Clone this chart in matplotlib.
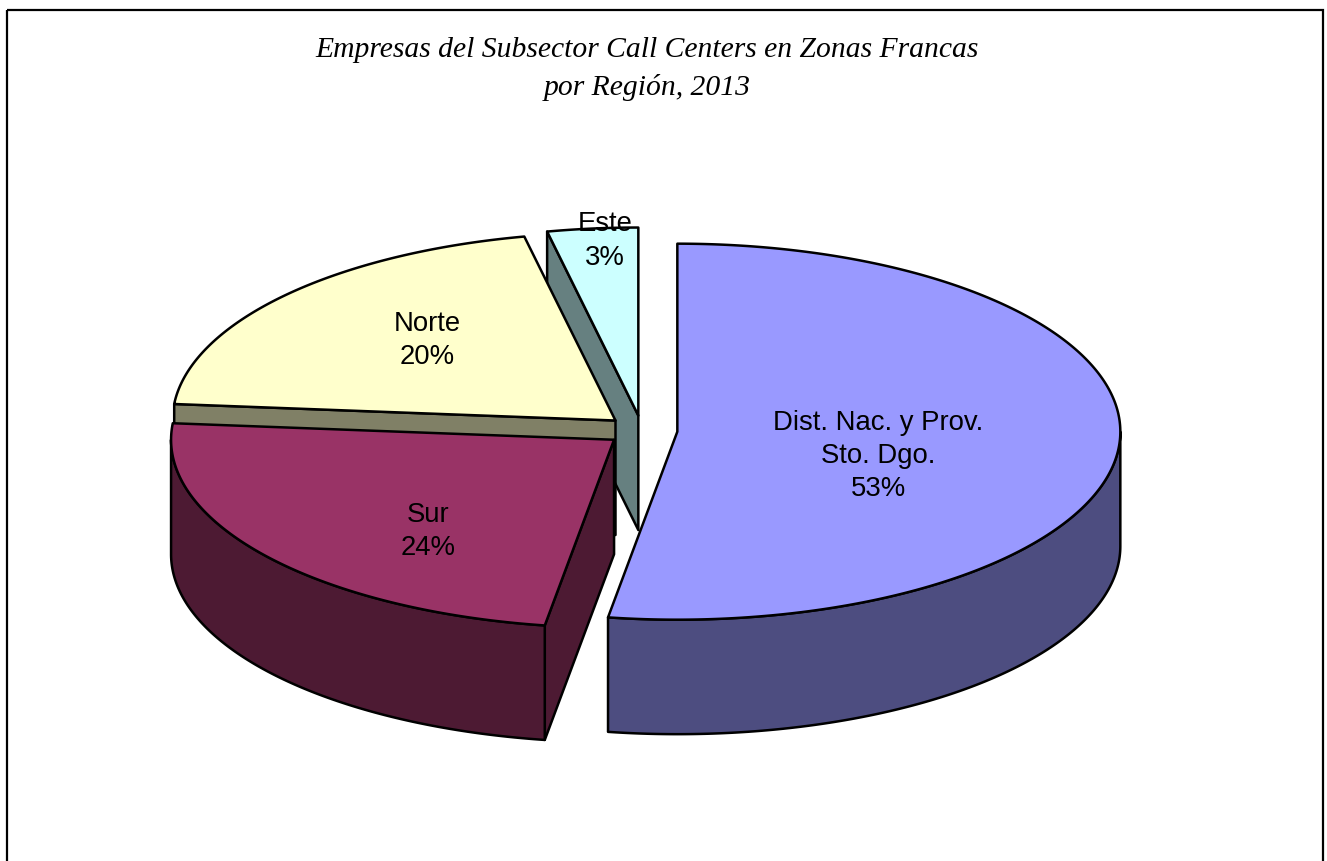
import numpy as np
import matplotlib
matplotlib.use("Agg")
import matplotlib.pyplot as plt
from matplotlib.patches import Polygon, Rectangle

# Data (clockwise from 12 o'clock)
categories = ["Dist. Nac. y Prov.\nSto. Dgo.", "Sur", "Norte", "Este"]
shares = [52.5, 23.9, 20.3, 3.3]
percent_labels = ["53%", "24%", "20%", "3%"]
title_lines = "Empresas del Subsector Call Centers en Zonas Francas\npor Región, 2013"

top_colors = ["#9999FF", "#993366", "#FFFFCC", "#CCFFFF"]
side_colors = ["#4D4D80", "#4D1A33", "#808066", "#668080"]

W, H = 1327, 861
CX, CY, RX, RY, DEPTH, EXPLODE = 642.0, 430.5, 443.0, 188.0, 114.5, 0.08
LW = 1.8

fig = plt.figure(figsize=(W / 100, H / 100), dpi=100, facecolor="white")
ax = fig.add_axes([0, 0, 1, 1])
ax.set_xlim(0, W)
ax.set_ylim(H, 0)
ax.axis("off")

ax.add_patch(Rectangle((6.5, 10), 1316.5, 900, fill=False, ec="black", lw=1.6))


def rim(cx, cy, a, b, dy=0.0):
    t = np.radians(np.linspace(a, b, max(int(abs(b - a)) * 2, 2)))
    return np.column_stack([cx + RX * np.sin(t), cy - RY * np.cos(t) + dy])


edges = np.cumsum([0.0] + shares) / sum(shares) * 360.0
wedges = []
for i in range(len(shares)):
    t0, t1 = edges[i], edges[i + 1]
    mid = np.radians((t0 + t1) / 2)
    cx = CX + EXPLODE * RX * np.sin(mid)
    cy = CY - EXPLODE * RY * np.cos(mid)
    wedges.append((i, t0, t1, mid, cx, cy))

# Painter's order: back slices first
for i, t0, t1, mid, cx, cy in sorted(wedges, key=lambda w: w[5]):
    style = dict(fc=side_colors[i], ec="black", lw=LW, joinstyle="round")
    # Cut faces that look towards the viewer
    for t, visible in ((t0, np.sin(np.radians(t0)) < -1e-6), (t1, np.sin(np.radians(t1)) > 1e-6)):
        if visible:
            p = rim(cx, cy, t, t, 0)[0]
            ax.add_patch(Polygon([(cx, cy), p, p + [0, DEPTH], (cx, cy + DEPTH)], **style))
    # Outer wall (front half of the ellipse only)
    a, b = max(t0, 90.0), min(t1, 270.0)
    if a < b:
        upper = rim(cx, cy, a, b)
        lower = rim(cx, cy, a, b, DEPTH)[::-1]
        ax.add_patch(Polygon(np.vstack([upper, lower]), **style))
    # Top face
    ax.add_patch(Polygon(np.vstack([[(cx, cy)], rim(cx, cy, t0, t1)]),
                         fc=top_colors[i], ec="black", lw=LW, joinstyle="round"))

# Slice labels
label_font = dict(family="Liberation Sans", fontsize=19.8, color="black",
                  ha="center", va="center", linespacing=1.36)
label_centers = [(878, 456), (428, 531.5), (427, 340.5), (605, 241)]
for name, pct, (x, y) in zip(categories, percent_labels, label_centers):
    ax.text(x, y, f"{name}\n{pct}", **label_font)

ax.text(647, 69, title_lines, family="Liberation Serif", style="italic", fontsize=21.3,
        ha="center", va="center", linespacing=1.48, color="black")

fig.savefig("out.png", dpi=100, facecolor="white")
